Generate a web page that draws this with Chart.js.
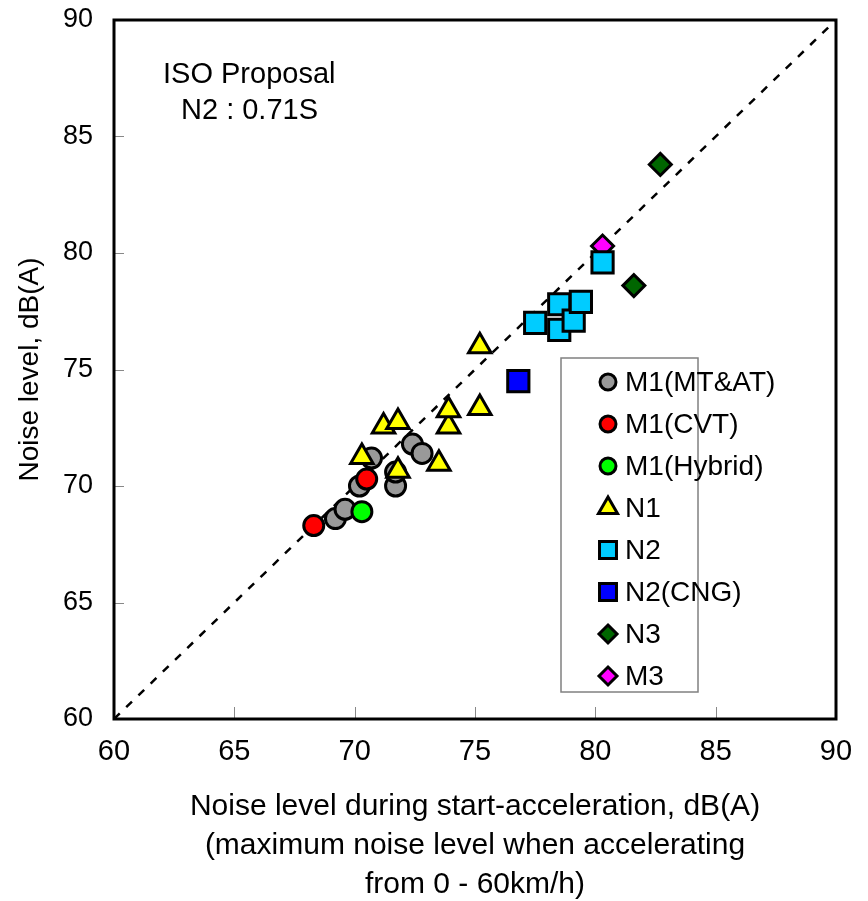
<!DOCTYPE html>
<html>
<head>
<meta charset="utf-8">
<script src="https://cdn.jsdelivr.net/npm/chart.js@4/dist/chart.umd.min.js"></script>
<style>
  html, body { margin: 0; padding: 0; background: #fff; }
  #wrap { width: 868px; height: 901px; }
</style>
</head>
<body>
<div id="wrap"><canvas id="chart" width="868" height="901"></canvas></div>
<script>
// axis ticks
const tickValues = [60, 65, 70, 75, 80, 85, 90];

// series, x = start-acceleration level, y = noise level
const m1MtAtX = [69.2, 69.6, 70.2, 70.7, 71.7, 71.7, 72.4, 72.8];
const m1MtAtY = [68.6, 69.0, 70.0, 71.2, 70.0, 70.6, 71.8, 71.4];
const m1CvtX = [68.3, 70.5];
const m1CvtY = [68.3, 70.3];
const m1HybridX = [70.3];
const m1HybridY = [68.9];
const n1X = [70.3, 71.2, 71.8, 71.8, 73.5, 73.9, 73.9, 75.2, 75.2];
const n1Y = [71.25, 72.55, 72.75, 70.65, 70.95, 72.55, 73.25, 73.35, 76.0];
const n2X = [77.5, 78.5, 78.5, 79.1, 79.4, 80.3];
const n2Y = [77.0, 76.7, 77.8, 77.1, 77.9, 79.6];
const n2CngX = [76.8];
const n2CngY = [74.5];
const n3X = [81.6, 82.7];
const n3Y = [78.6, 83.8];
const m3X = [80.3];
const m3Y = [80.3];

// reference line y = x
const refX = [60, 90];
const refY = [60, 90];

const noteLines = ['ISO Proposal', 'N2 : 0.71S'];

const toPoints = (xs, ys) => xs.map((x, i) => ({ x: x, y: ys[i] }));

const series = [
    { label: 'M1(MT&AT)', xs: m1MtAtX, ys: m1MtAtY, style: 'circle', color: '#999999', r: 10, lr: 8, order: 80 },
    { label: 'M1(CVT)', xs: m1CvtX, ys: m1CvtY, style: 'circle', color: '#ff0000', r: 10, lr: 8, order: 70 },
    { label: 'M1(Hybrid)', xs: m1HybridX, ys: m1HybridY, style: 'circle', color: '#00ff00', r: 10, lr: 8, order: 60 },
    { label: 'N1', xs: n1X, ys: n1Y, style: 'triangle', color: '#ffff00', r: 13, lr: 11, order: 50 },
    { label: 'N2', xs: n2X, ys: n2Y, style: 'rect', color: '#00ccff', r: 15, lr: 12, order: 40 },
    { label: 'N2(CNG)', xs: n2CngX, ys: n2CngY, style: 'rect', color: '#0000ff', r: 15, lr: 12, order: 30 },
    { label: 'N3', xs: n3X, ys: n3Y, style: 'rectRot', color: '#006600', r: 11, lr: 9, order: 20 },
    { label: 'M3', xs: m3X, ys: m3Y, style: 'rectRot', color: '#ff00ff', r: 11, lr: 9, order: 45 }
];

const datasets = series.map(s => ({
    type: 'scatter',
    label: s.label,
    data: toPoints(s.xs, s.ys),
    pointStyle: s.style,
    pointRadius: s.r,
    pointBackgroundColor: s.color,
    pointBorderColor: '#000000',
    pointBorderWidth: 3,
    order: s.order
}));

datasets.push({
    type: 'line',
    label: 'ref',
    data: toPoints(refX, refY),
    borderColor: '#000000',
    borderWidth: 2.5,
    borderDash: [8, 9],
    pointRadius: 0,
    fill: false,
    order: 90
});

// frame, inward ticks, note and legend box
const decorations = {
    id: 'decorations',
    beforeDatasetsDraw(chart) {
        const ctx = chart.ctx;
        const a = chart.chartArea;
        const xs = chart.scales.x;
        const ys = chart.scales.y;
        ctx.save();
        ctx.strokeStyle = '#888888';
        ctx.lineWidth = 1;
        tickValues.slice(1, -1).forEach(v => {
            const px = Math.round(xs.getPixelForValue(v)) + 0.5;
            ctx.beginPath();
            ctx.moveTo(px, a.bottom);
            ctx.lineTo(px, a.bottom - 12);
            ctx.stroke();
            const py = Math.round(ys.getPixelForValue(v)) + 0.5;
            ctx.beginPath();
            ctx.moveTo(a.left, py);
            ctx.lineTo(a.left + 10, py);
            ctx.stroke();
        });
        ctx.strokeStyle = '#000000';
        ctx.lineWidth = 3;
        ctx.strokeRect(a.left, a.top, a.right - a.left, a.bottom - a.top);

        ctx.fillStyle = '#000000';
        ctx.font = '29px "Liberation Sans", Arial, sans-serif';
        ctx.textAlign = 'left';
        ctx.textBaseline = 'middle';
        ctx.fillText(noteLines[0], 163, 75);
        ctx.fillText(noteLines[1], 181, 111);
        ctx.restore();
    },
    afterDatasetsDraw(chart) {
        const ctx = chart.ctx;
        const box = { left: 561, top: 358, right: 698, bottom: 692 };
        ctx.save();
        ctx.fillStyle = '#ffffff';
        ctx.fillRect(box.left, box.top, box.right - box.left, box.bottom - box.top);
        ctx.strokeStyle = '#808080';
        ctx.lineWidth = 1.5;
        ctx.strokeRect(box.left, box.top, box.right - box.left, box.bottom - box.top);

        series.forEach((s, i) => {
            const cy = 382 + i * 42;
            const cx = 608;
            ctx.fillStyle = s.color;
            ctx.strokeStyle = '#000000';
            ctx.lineWidth = 3;
            ctx.beginPath();
            const r = s.lr;
            if (s.style === 'circle') {
                ctx.arc(cx, cy, r, 0, Math.PI * 2);
            } else if (s.style === 'triangle') {
                ctx.moveTo(cx, cy - r);
                ctx.lineTo(cx + r * 0.866, cy + r * 0.5);
                ctx.lineTo(cx - r * 0.866, cy + r * 0.5);
                ctx.closePath();
            } else if (s.style === 'rect') {
                const h = r * Math.SQRT1_2;
                ctx.rect(cx - h, cy - h, 2 * h, 2 * h);
            } else {
                ctx.moveTo(cx, cy - r);
                ctx.lineTo(cx + r, cy);
                ctx.lineTo(cx, cy + r);
                ctx.lineTo(cx - r, cy);
                ctx.closePath();
            }
            ctx.fill();
            ctx.stroke();

            ctx.fillStyle = '#000000';
            ctx.font = '28px "Liberation Sans", Arial, sans-serif';
            ctx.textAlign = 'left';
            ctx.textBaseline = 'middle';
            ctx.fillText(s.label, 625, cy + 1);
        });
        ctx.restore();
    }
};

new Chart(document.getElementById('chart'), {
    data: { datasets: datasets },
    options: {
        responsive: false,
        animation: false,
        devicePixelRatio: 1,
        layout: { padding: { top: 20, right: 32, left: 0, bottom: 0 } },
        plugins: {
            legend: { display: false },
            tooltip: { enabled: false }
        },
        scales: {
            x: {
                type: 'linear',
                min: 60,
                max: 90,
                afterFit: scale => {
                    scale.height = 182;
                    scale.paddingLeft = 0;
                    scale.paddingRight = 0;
                },
                afterBuildTicks: scale => { scale.ticks = tickValues.map(v => ({ value: v })); },
                grid: { display: false, drawTicks: false },
                border: { display: false },
                ticks: {
                    padding: 16,
                    color: '#000000',
                    font: { family: '"Liberation Sans", Arial', size: 29 }
                },
                title: {
                    display: true,
                    text: [
                        'Noise level during start-acceleration, dB(A)',
                        '(maximum noise level when accelerating',
                        'from 0 - 60km/h)'
                    ],
                    color: '#000000',
                    padding: { top: 0, bottom: -3 },
                    font: { family: '"Liberation Sans", Arial', size: 30, lineHeight: '39px' }
                }
            },
            y: {
                type: 'linear',
                min: 60,
                max: 90,
                afterFit: scale => {
                    scale.width = 114;
                    scale.paddingTop = 0;
                    scale.paddingBottom = 0;
                },
                afterBuildTicks: scale => { scale.ticks = tickValues.map(v => ({ value: v })); },
                grid: { display: false, drawTicks: false },
                border: { display: false },
                ticks: {
                    padding: 21,
                    color: '#000000',
                    font: { family: '"Liberation Sans", Arial', size: 27 }
                },
                title: {
                    display: true,
                    text: 'Noise level, dB(A)',
                    color: '#000000',
                    padding: { top: 13, bottom: 0 },
                    font: { family: '"Liberation Sans", Arial', size: 28 }
                }
            }
        }
    },
    plugins: [decorations]
});
</script>
</body>
</html>
